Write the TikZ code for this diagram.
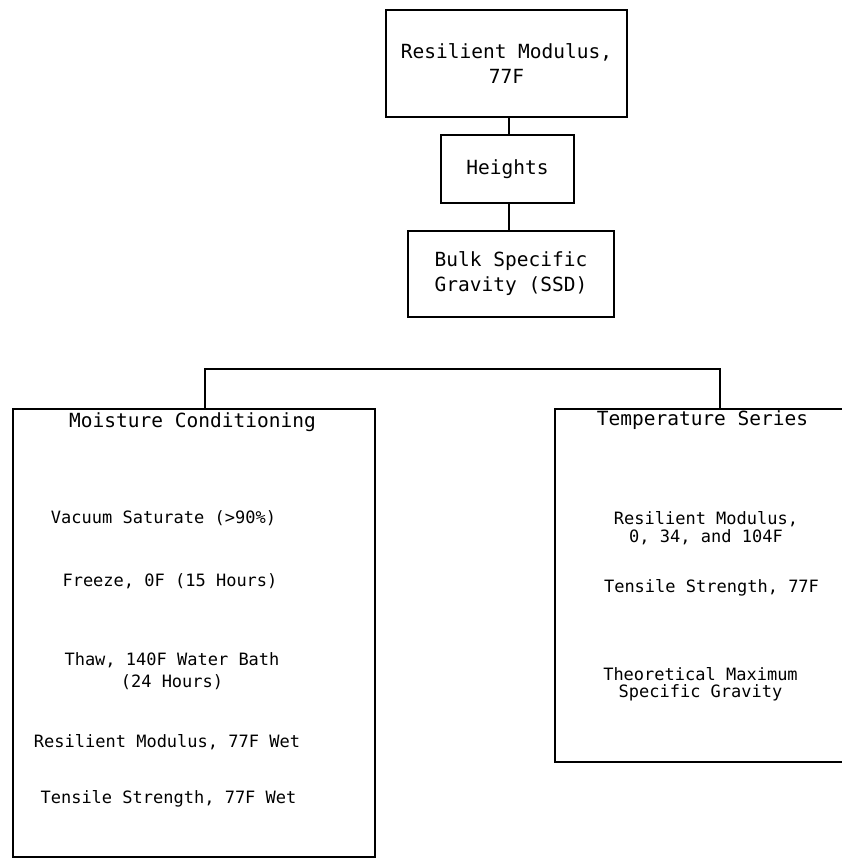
\documentclass[tikz,border=0pt]{standalone}
\usepackage{fontspec}
\setmonofont{DejaVu Sans Mono}
\usepackage{tikz}

\tikzset{
  stepbox/.style={draw,line width=1.4pt,inner sep=0pt,align=center},
  bigtext/.style={font=\ttfamily\fontsize{19.5}{25}\selectfont,align=center},
  smalltext/.style={font=\ttfamily\fontsize{17}{20}\selectfont,align=center},
}

\begin{document}
\begin{tikzpicture}[x=1pt,y=-1pt,line width=1.4pt]
\clip (0,0) rectangle (842,859);
% top chain
\node[stepbox,bigtext,minimum width=241pt,minimum height=107pt] (modtop) at (506.5,63.5) {Resilient Modulus,\\77F};
\node[stepbox,bigtext,minimum width=133pt,minimum height=68pt] (heights) at (507.5,169) {Heights};
\node[stepbox,bigtext,minimum width=206pt,minimum height=86pt] (bulk) at (511,274) {Bulk Specific\\Gravity (SSD)};
\draw ([xshift=1.5pt]heights.north) -- ([xshift=1.5pt]heights.north |- modtop.south);
\draw ([xshift=1.5pt]heights.south) -- ([xshift=1.5pt]heights.south |- bulk.north);

% two branches
\node[stepbox,minimum width=362pt,minimum height=448pt] (moist) at (194,633) {};
\node[stepbox,minimum width=305pt,minimum height=353pt] (temp) at (707.5,585.5) {};
\coordinate (splitL) at (205,369);
\coordinate (splitR) at (720,369);
\draw (splitL |- moist.north) -- (splitL) -- (splitR) -- (splitR |- temp.north);

% moisture conditioning
\node[bigtext] (moisttitle) at (192.5,422) {Moisture Conditioning};
\node[smalltext] (vacuum) at (163.5,518) {Vacuum Saturate (>90\%)};
\node[smalltext] (freeze) at (170,581) {Freeze, 0F (15 Hours)};
\node[smalltext,font=\ttfamily\fontsize{17}{21.5}\selectfont] (thaw) at (172,671) {Thaw, 140F Water Bath\\(24 Hours)};
\node[smalltext] (mrwet) at (167,742) {Resilient Modulus, 77F Wet};
\node[smalltext] (tswet) at (168.5,799) {Tensile Strength, 77F Wet};

% temperature series
\node[bigtext] (temptitle) at (702.5,420) {Temperature Series};
\node[smalltext,font=\ttfamily\fontsize{17}{18.5}\selectfont] (mrtemp) at (706,528) {Resilient Modulus,\\0, 34, and 104F};
\node[smalltext] (tstemp) at (711.5,588) {Tensile Strength, 77F};
\node[smalltext,font=\ttfamily\fontsize{17}{17}\selectfont] (tmsg) at (700.5,684) {Theoretical Maximum\\Specific Gravity};
\end{tikzpicture}
\end{document}
